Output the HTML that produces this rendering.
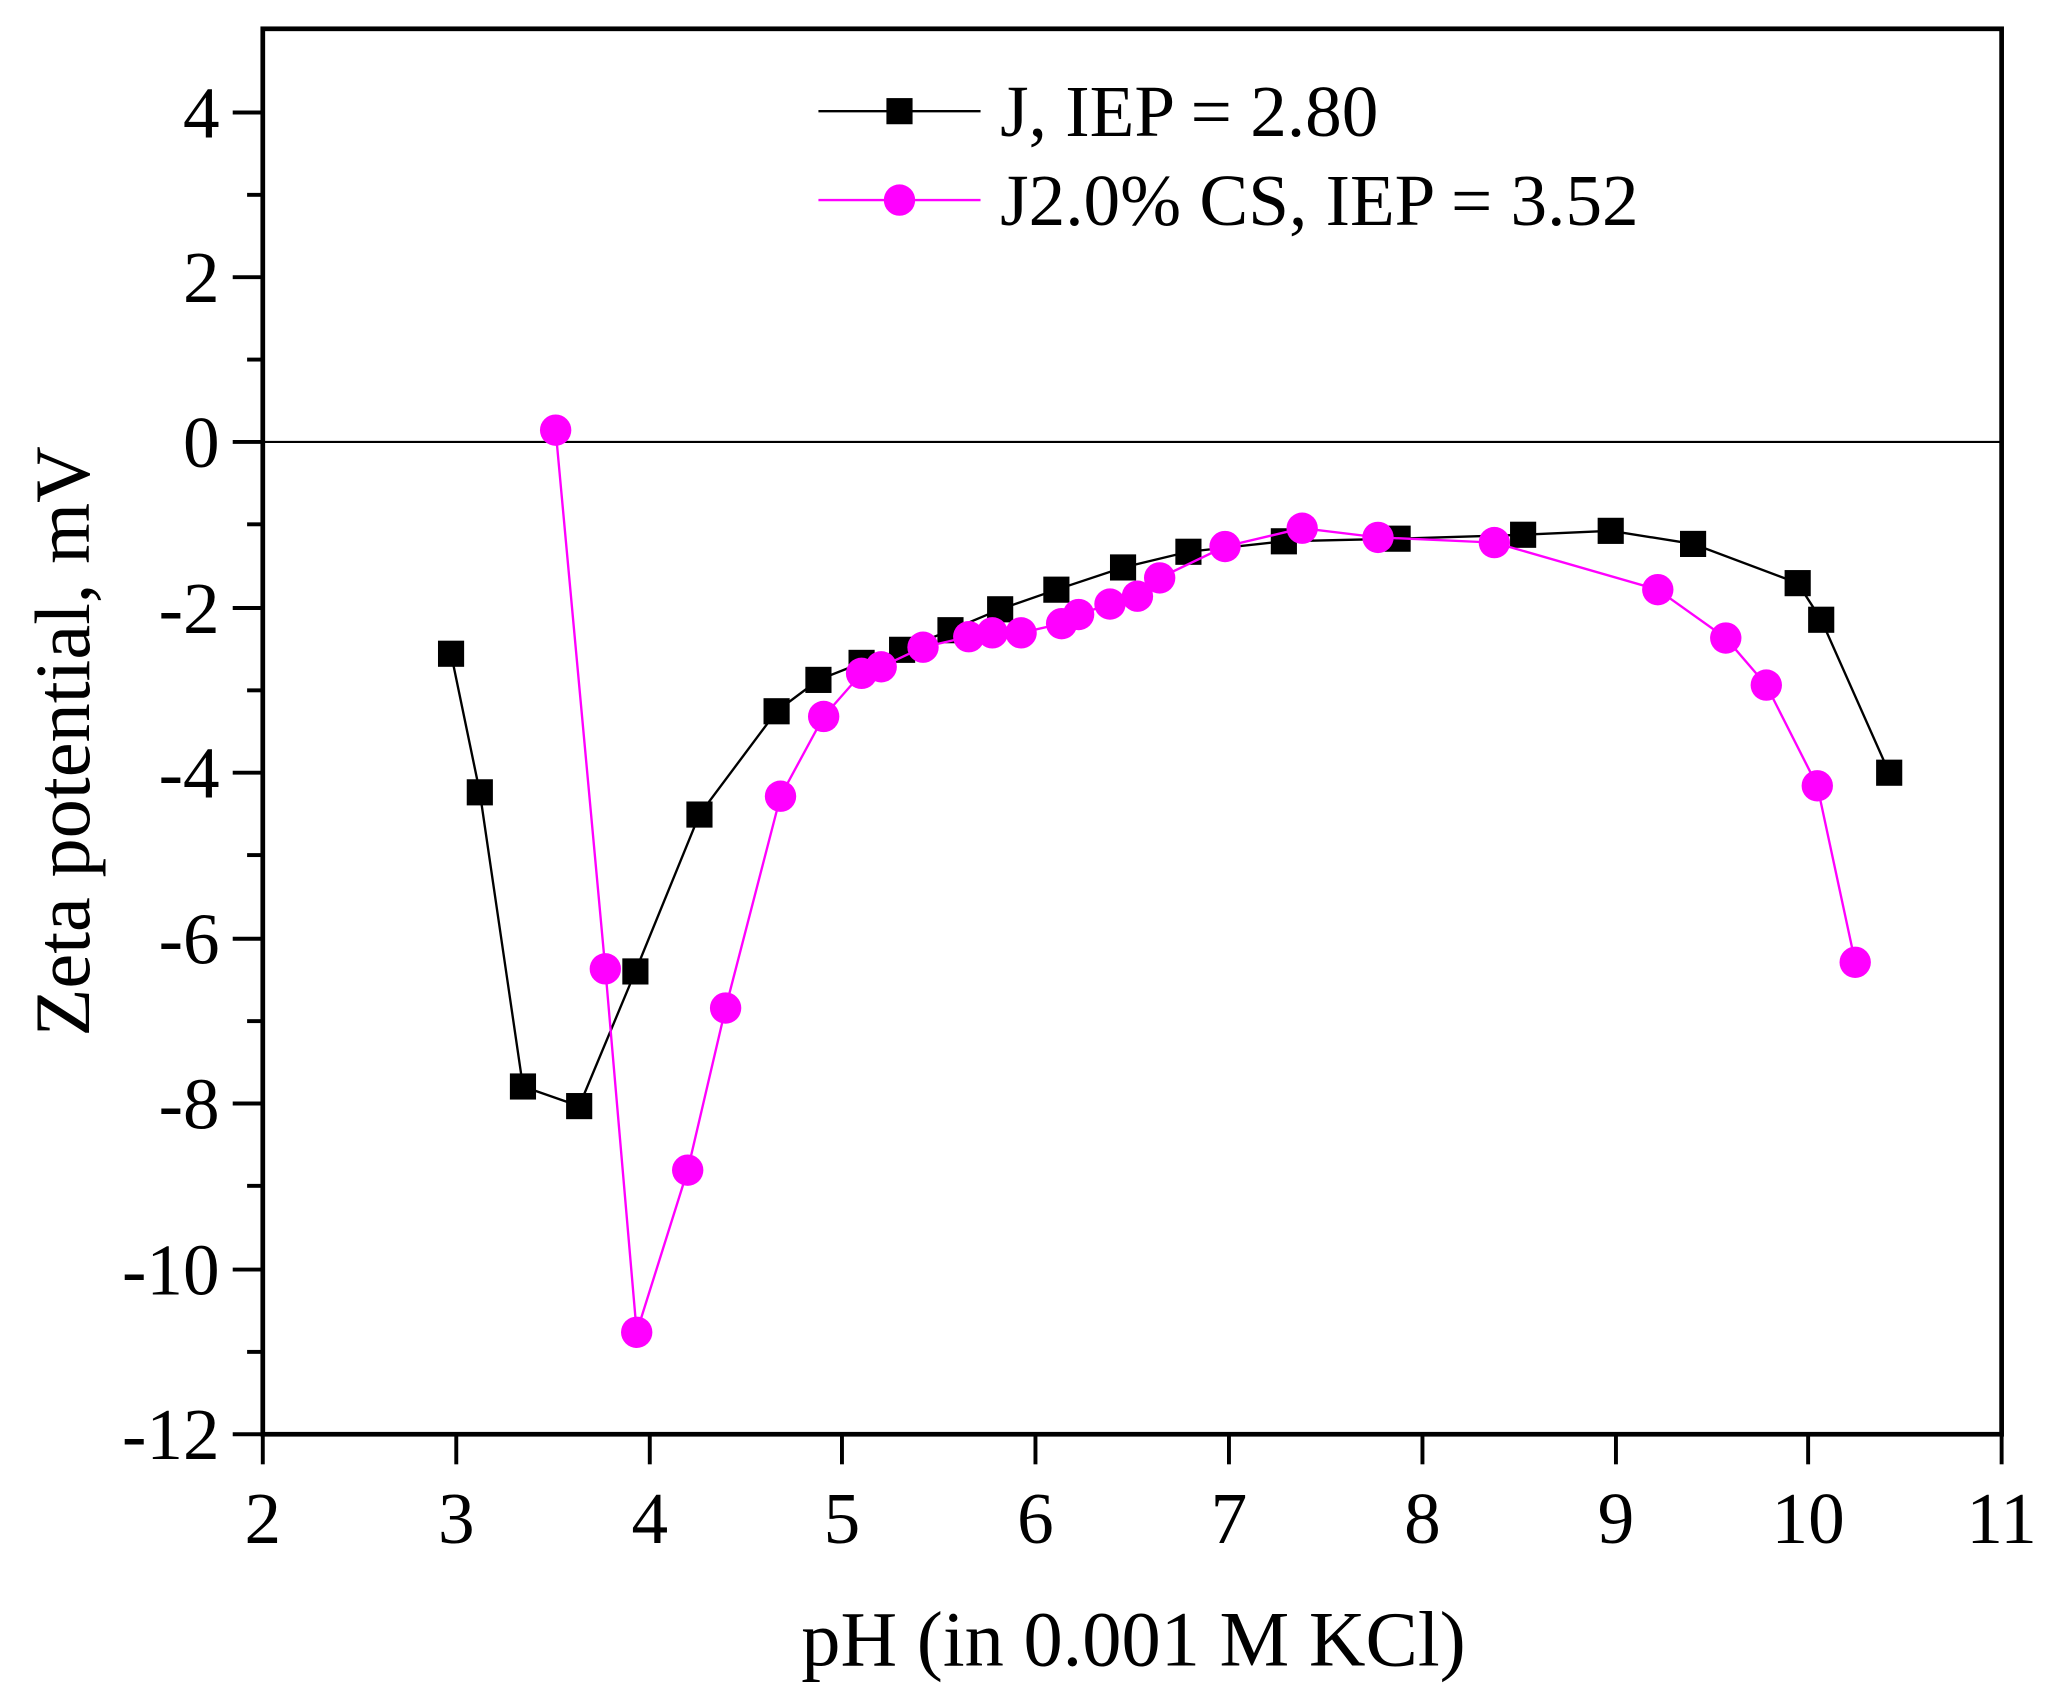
<!DOCTYPE html>
<html><head><meta charset="utf-8"><style>html,body{margin:0;padding:0;background:#fff}svg{display:block}</style></head>
<body>
<svg width="2050" height="1698" viewBox="0 0 1568 1298.7" xmlns="http://www.w3.org/2000/svg" font-family="Liberation Serif, serif">
<rect width="1568" height="1298.7" fill="#fff"/>
<line x1="201" y1="338" x2="1531" y2="338" stroke="#000" stroke-width="1.6"/>
<g stroke="#000" stroke-width="3">
<line x1="178" y1="86" x2="201" y2="86"/><line x1="178" y1="212" x2="201" y2="212"/><line x1="178" y1="338" x2="201" y2="338"/><line x1="178" y1="465" x2="201" y2="465"/><line x1="178" y1="591" x2="201" y2="591"/><line x1="178" y1="718" x2="201" y2="718"/><line x1="178" y1="844" x2="201" y2="844"/><line x1="178" y1="971" x2="201" y2="971"/><line x1="178" y1="1097" x2="201" y2="1097"/>
<line x1="189" y1="149" x2="201" y2="149"/><line x1="189" y1="275" x2="201" y2="275"/><line x1="189" y1="401" x2="201" y2="401"/><line x1="189" y1="528" x2="201" y2="528"/><line x1="189" y1="654" x2="201" y2="654"/><line x1="189" y1="781" x2="201" y2="781"/><line x1="189" y1="907" x2="201" y2="907"/><line x1="189" y1="1034" x2="201" y2="1034"/>
<line x1="201" y1="1097" x2="201" y2="1120"/><line x1="349" y1="1097" x2="349" y2="1120"/><line x1="497" y1="1097" x2="497" y2="1120"/><line x1="644" y1="1097" x2="644" y2="1120"/><line x1="792" y1="1097" x2="792" y2="1120"/><line x1="940" y1="1097" x2="940" y2="1120"/><line x1="1088" y1="1097" x2="1088" y2="1120"/><line x1="1236" y1="1097" x2="1236" y2="1120"/><line x1="1383" y1="1097" x2="1383" y2="1120"/><line x1="1531" y1="1097" x2="1531" y2="1120"/>
</g>
<rect x="201" y="22" width="1330" height="1075" fill="none" stroke="#000" stroke-width="3.6"/>
<g font-size="56" text-anchor="end">
<text x="168" y="105">4</text><text x="168" y="231">2</text><text x="168" y="357">0</text><text x="168" y="484">-2</text><text x="168" y="610">-4</text><text x="168" y="737">-6</text><text x="168" y="863">-8</text><text x="168" y="990">-10</text><text x="168" y="1116">-12</text>
</g>
<g font-size="56" text-anchor="middle">
<text x="201" y="1180">2</text><text x="349" y="1180">3</text><text x="497" y="1180">4</text><text x="644" y="1180">5</text><text x="792" y="1180">6</text><text x="940" y="1180">7</text><text x="1088" y="1180">8</text><text x="1236" y="1180">9</text><text x="1383" y="1180">10</text><text x="1531" y="1180">11</text>
</g>
<text x="867" y="1274" font-size="60" text-anchor="middle">pH (in 0.001 M KCl)</text>
<text transform="translate(68,567) rotate(-90)" font-size="60" text-anchor="middle">Zeta potential, mV</text>
<polyline fill="none" stroke="#000" stroke-width="1.8" points="345,500 367,606 400,831 443,846 486,743 535,623 594,544 626,520 659,507 690,497 727,482 765,466 808,451 859,434 909,422 982,414 1069,412 1165,409 1232,406 1295,416 1375,446 1393,474 1445,591"/>
<g fill="#000">
<rect x="335" y="490" width="20" height="20"/><rect x="357" y="596" width="20" height="20"/><rect x="390" y="821" width="20" height="20"/><rect x="433" y="836" width="20" height="20"/><rect x="476" y="733" width="20" height="20"/><rect x="525" y="613" width="20" height="20"/><rect x="584" y="534" width="20" height="20"/><rect x="616" y="510" width="20" height="20"/><rect x="649" y="497" width="20" height="20"/><rect x="680" y="487" width="20" height="20"/><rect x="717" y="472" width="20" height="20"/><rect x="755" y="456" width="20" height="20"/><rect x="798" y="441" width="20" height="20"/><rect x="849" y="424" width="20" height="20"/><rect x="899" y="412" width="20" height="20"/><rect x="972" y="404" width="20" height="20"/><rect x="1059" y="402" width="20" height="20"/><rect x="1155" y="399" width="20" height="20"/><rect x="1222" y="396" width="20" height="20"/><rect x="1285" y="406" width="20" height="20"/><rect x="1365" y="436" width="20" height="20"/><rect x="1383" y="464" width="20" height="20"/><rect x="1435" y="581" width="20" height="20"/>
</g>
<polyline fill="none" stroke="#f0f" stroke-width="1.8" points="425,329 463,741 487,1019 526,895 555,771 597,609 630,548 659,515 674,510 706,495 741,487 759,484 781,484 812,477 825,470 849,462 870,456 887,442 937,418 996,404 1054,411 1143,415 1268,451 1320,488 1351,524 1390,601 1419,736"/>
<g fill="#f0f">
<circle cx="425" cy="329" r="12"/><circle cx="463" cy="741" r="12"/><circle cx="487" cy="1019" r="12"/><circle cx="526" cy="895" r="12"/><circle cx="555" cy="771" r="12"/><circle cx="597" cy="609" r="12"/><circle cx="630" cy="548" r="12"/><circle cx="659" cy="515" r="12"/><circle cx="674" cy="510" r="12"/><circle cx="706" cy="495" r="12"/><circle cx="741" cy="487" r="12"/><circle cx="759" cy="484" r="12"/><circle cx="781" cy="484" r="12"/><circle cx="812" cy="477" r="12"/><circle cx="825" cy="470" r="12"/><circle cx="849" cy="462" r="12"/><circle cx="870" cy="456" r="12"/><circle cx="887" cy="442" r="12"/><circle cx="937" cy="418" r="12"/><circle cx="996" cy="404" r="12"/><circle cx="1054" cy="411" r="12"/><circle cx="1143" cy="415" r="12"/><circle cx="1268" cy="451" r="12"/><circle cx="1320" cy="488" r="12"/><circle cx="1351" cy="524" r="12"/><circle cx="1390" cy="601" r="12"/><circle cx="1419" cy="736" r="12"/>
</g>
<line x1="626" y1="85" x2="750" y2="85" stroke="#000" stroke-width="1.8"/>
<rect x="678" y="75" width="20" height="20" fill="#000"/>
<text x="765" y="104" font-size="56">J, IEP = 2.80</text>
<line x1="626" y1="153" x2="750" y2="153" stroke="#f0f" stroke-width="1.8"/>
<circle cx="688" cy="153" r="12" fill="#f0f"/>
<text x="765" y="172" font-size="56">J2.0% CS, IEP = 3.52</text>
</svg>
</body></html>
